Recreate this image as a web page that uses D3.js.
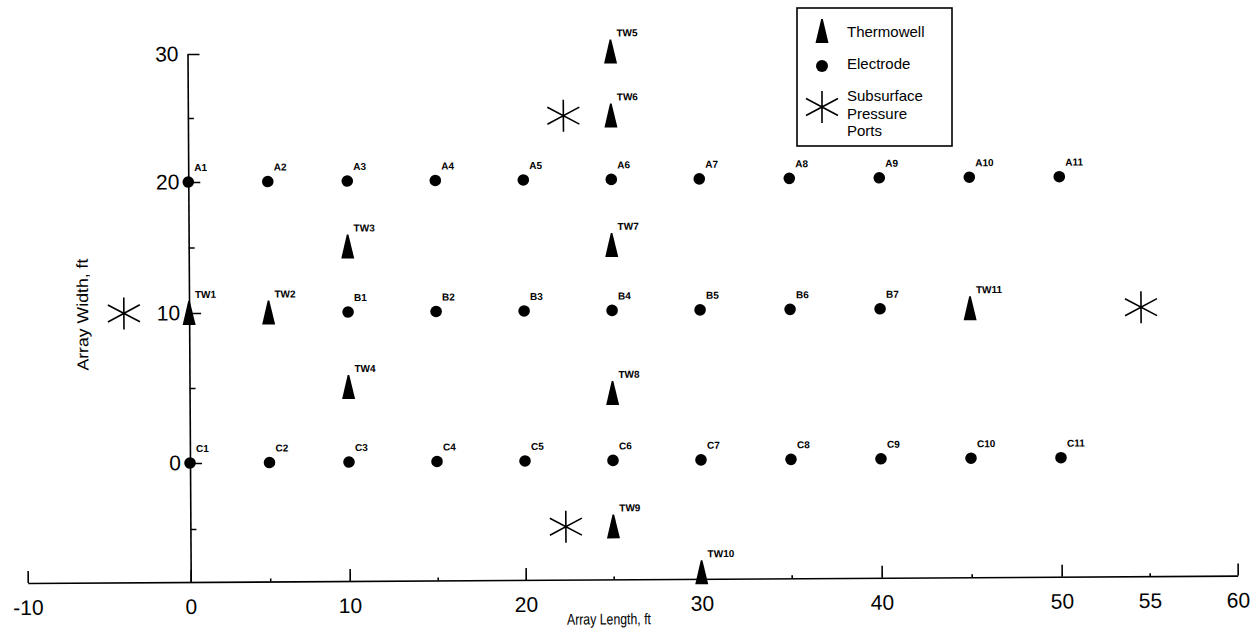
<!DOCTYPE html>
<html>
<head>
<meta charset="utf-8">
<script src="https://cdn.jsdelivr.net/npm/d3@7"></script>
<style>
  body { margin: 0; background: #fff; }
  text { font-family: "Liberation Sans", Arial, Helvetica, sans-serif; fill: #000; }
</style>
</head>
<body>
<div id="my_dataviz"></div>
<script>
// electrode layout (ft)
const electrodeNames = ["A1","A2","A3","A4","A5","A6","A7","A8","A9","A10","A11",
                        "B1","B2","B3","B4","B5","B6","B7",
                        "C1","C2","C3","C4","C5","C6","C7","C8","C9","C10","C11"];
const electrodeX = [0,5,10,15,20,25,30,35,40,45,50,
                    10,15,20,25,30,35,40,
                    0,5,10,15,20,25,30,35,40,45,50];
const electrodeY = [20,20,20,20,20,20,20,20,20,20,20,
                    10,10,10,10,10,10,10,
                    0,0,0,0,0,0,0,0,0,0,0];

// thermowells
const thermoNames = ["TW1","TW2","TW3","TW4","TW5","TW6","TW7","TW8","TW9","TW10","TW11"];
const thermoX = [0,5,10,10,25,25,25,25,25,30,45];
const thermoY = [10,10,15,5,30,25,15,4.5,-5,-8.5,10];

// subsurface pressure ports
const portX = [-4,22.3,54.6,22.3];
const portY = [10,25,10,-5];

// axes
const xTickLabels = [-10,0,10,20,30,40,50,55,60];
const xMinorTicks = [5,15,25,35,45];
const yTickLabels = [30,20,10,0];
const yMinorTicks = [25,15,5,-5];
const yFloor = -9;

const legendLabels = ["Thermowell", "Electrode", ["Subsurface","Pressure","Ports"]];

const width = 1259, height = 634;

const svgRoot = d3.select("#my_dataviz")
  .append("svg")
    .attr("width", width)
    .attr("height", height);

// the scanned drawing is a touch tilted
const svg = svgRoot.append("g")
  .attr("transform", "rotate(-0.35,190,463)");

// hand-drawn grid is not quite uniform, so piecewise scales
const x = d3.scaleLinear()
  .domain([-10,0,10,20,30,40,50,60])
  .range([27,190,349,525,701,881,1061,1237]);
const y = d3.scaleLinear()
  .domain([30,20,10,0,-5,yFloor])
  .range([54,182,313,463,529,582]);

// symbol shapes
const triPath = function(cx, cy) {
  return `M${cx-0.8},${cy-12}L${cx+0.8},${cy-12}L${cx+6.5},${cy+12}L${cx-6.5},${cy+12}Z`;
};
const starPath = function(cx, cy) {
  return `M${cx},${cy-16}L${cx},${cy+16}` +
         `M${cx-16},${cy-8.5}L${cx+16},${cy+8.5}` +
         `M${cx-16},${cy+8.5}L${cx+16},${cy-8.5}`;
};

// X axis
const xAxis = svg.append("g")
  .attr("transform", `translate(0,${y(yFloor)})`)
  .call(d3.axisBottom(x)
    .tickValues(xTickLabels)
    .tickSizeInner(-12)
    .tickSizeOuter(0)
    .tickPadding(17)
    .tickFormat(d => String(d)));
xAxis.selectAll(".tick line")
  .attr("y2", d => d % 10 === 0 ? -12 : -3);
xAxis.append("g")
  .call(d3.axisBottom(x)
    .tickValues(xMinorTicks)
    .tickSizeInner(-3)
    .tickSizeOuter(0)
    .tickFormat(""))
  .select(".domain").remove();
xAxis.selectAll("path, line").attr("stroke", "#000").attr("stroke-width", 1.6);
xAxis.selectAll("text").attr("font-size", "21px").attr("fill", "#000");

// Y axis
const yAxis = svg.append("g")
  .attr("transform", `translate(${x(0)},0)`)
  .call(d3.axisLeft(y)
    .tickValues(yTickLabels)
    .tickSizeInner(-12)
    .tickSizeOuter(0)
    .tickPadding(9)
    .tickFormat(d => String(d)));
yAxis.append("g")
  .call(d3.axisLeft(y)
    .tickValues(yMinorTicks)
    .tickSizeInner(-6)
    .tickSizeOuter(0)
    .tickFormat(""))
  .select(".domain").remove();
yAxis.selectAll("path, line").attr("stroke", "#000").attr("stroke-width", 1.6);
yAxis.selectAll("text").attr("font-size", "21px").attr("fill", "#000");

// axis titles
svg.append("text")
  .attr("x", 566)
  .attr("y", 627)
  .attr("font-size", "15.5px")
  .attr("textLength", 84)
  .attr("lengthAdjust", "spacingAndGlyphs")
  .text("Array Length, ft");
svg.append("text")
  .attr("transform", "translate(89,370)rotate(-90)")
  .attr("font-size", "16px")
  .attr("textLength", 112)
  .attr("lengthAdjust", "spacingAndGlyphs")
  .text("Array Width, ft");

// pressure ports
svg.selectAll("path.port")
  .data(d3.range(portX.length))
  .join("path")
    .attr("class", "port")
    .attr("d", i => starPath(x(portX[i]), y(portY[i])))
    .attr("fill", "none")
    .attr("stroke", "#000")
    .attr("stroke-width", 1.6);

// electrodes
svg.selectAll("circle.electrode")
  .data(d3.range(electrodeNames.length))
  .join("circle")
    .attr("class", "electrode")
    .attr("cx", i => x(electrodeX[i]))
    .attr("cy", i => y(electrodeY[i]))
    .attr("r", 5.8)
    .attr("fill", "#000");
svg.selectAll("text.elabel")
  .data(d3.range(electrodeNames.length))
  .join("text")
    .attr("class", "elabel")
    .attr("x", i => x(electrodeX[i]) + 6)
    .attr("y", i => y(electrodeY[i]) - 11)
    .attr("font-size", "10px")
    .attr("font-weight", "bold")
    .text(i => electrodeNames[i]);

// thermowells
svg.selectAll("path.thermo")
  .data(d3.range(thermoNames.length))
  .join("path")
    .attr("class", "thermo")
    .attr("d", i => triPath(x(thermoX[i]), y(thermoY[i])))
    .attr("fill", "#000");
svg.selectAll("text.tlabel")
  .data(d3.range(thermoNames.length))
  .join("text")
    .attr("class", "tlabel")
    .attr("x", i => x(thermoX[i]) + 6)
    .attr("y", i => y(thermoY[i]) - 15)
    .attr("font-size", "10px")
    .attr("font-weight", "bold")
    .text(i => thermoNames[i]);

// legend
const legend = svgRoot.append("g");
legend.append("rect")
  .attr("x", 797).attr("y", 8)
  .attr("width", 155).attr("height", 138)
  .attr("fill", "#fff")
  .attr("stroke", "#000")
  .attr("stroke-width", 1.6);
legend.append("path").attr("d", triPath(822, 31)).attr("fill", "#000");
legend.append("text").attr("x", 847).attr("y", 37).attr("font-size", "15px").text(legendLabels[0]);
legend.append("circle").attr("cx", 822).attr("cy", 66).attr("r", 6).attr("fill", "#000");
legend.append("text").attr("x", 847).attr("y", 69).attr("font-size", "15px").text(legendLabels[1]);
legend.append("path").attr("d", starPath(822, 107))
  .attr("fill", "none").attr("stroke", "#000").attr("stroke-width", 1.6);
legend.selectAll("text.port-lbl")
  .data(legendLabels[2])
  .join("text")
    .attr("class", "port-lbl")
    .attr("x", 847)
    .attr("y", (d, i) => 101 + i * 17.5)
    .attr("font-size", "15px")
    .text(d => d);
</script>
</body>
</html>
